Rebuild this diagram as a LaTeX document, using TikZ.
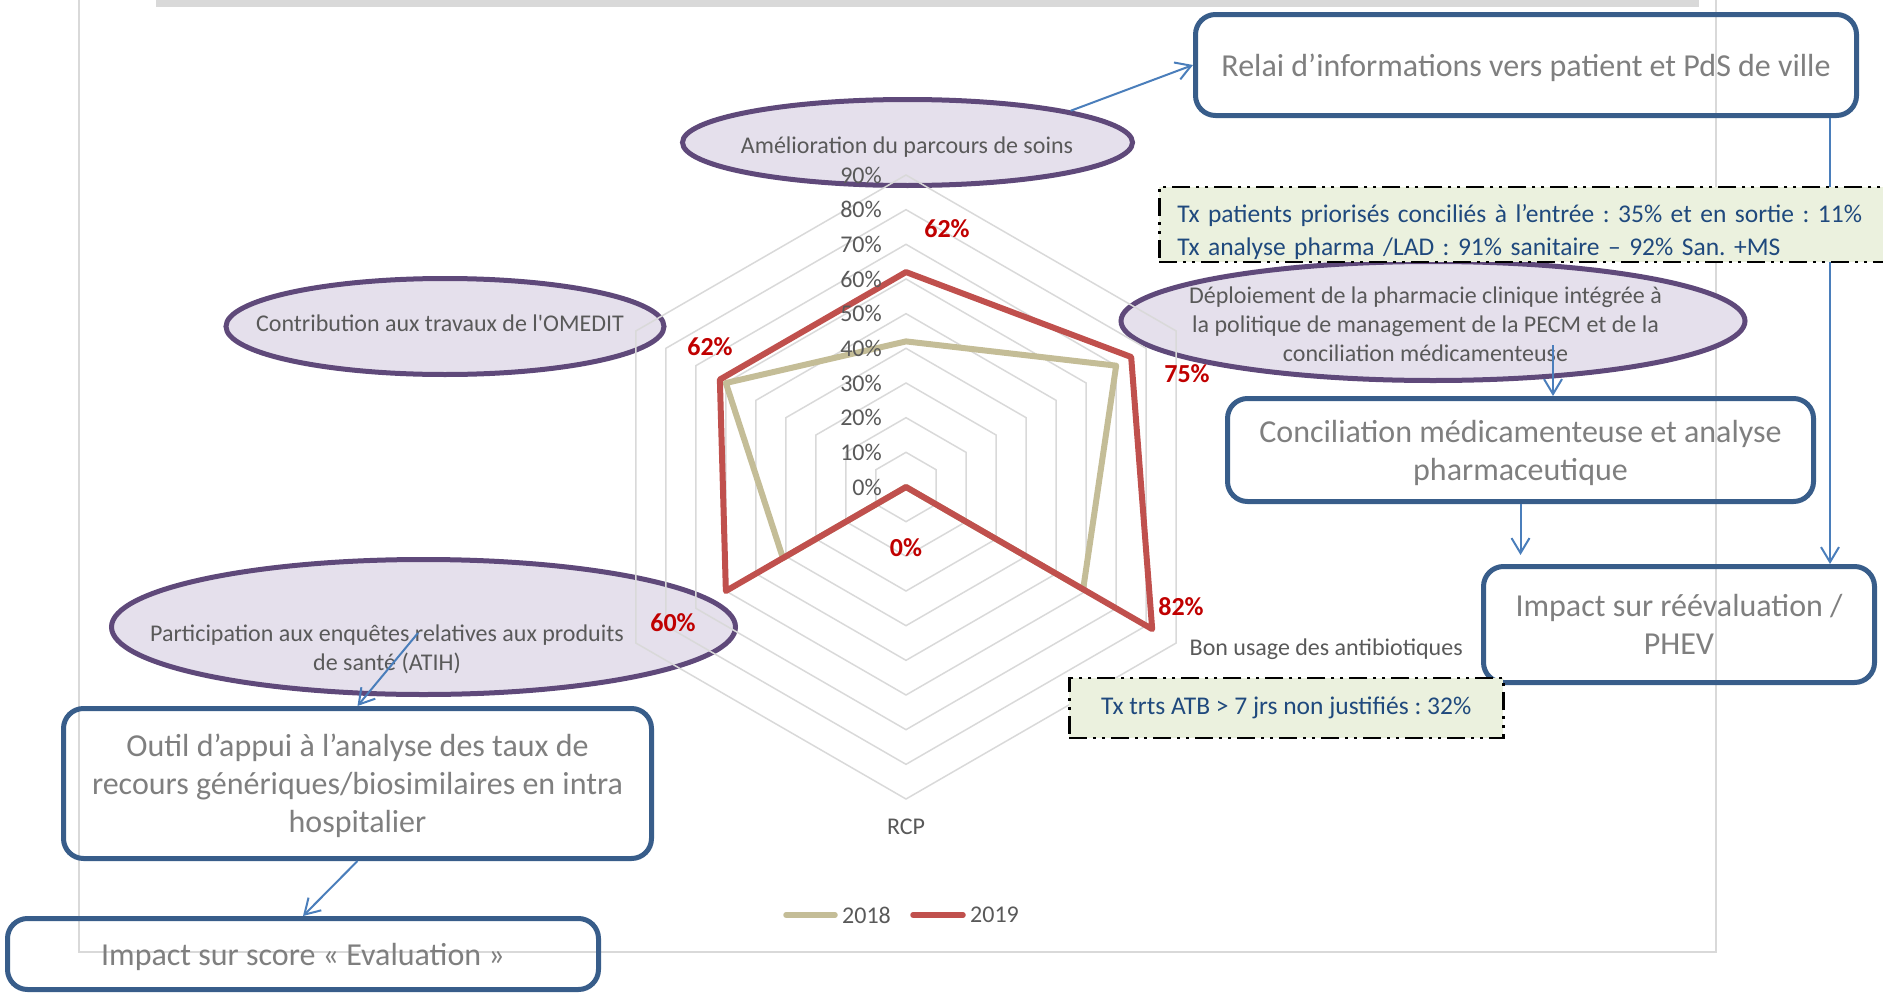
\documentclass[tikz,border=0pt]{standalone}
\usepackage{fontspec}
\setmainfont{Carlito}
\usepackage{tikz}
\usetikzlibrary{calc, shapes.geometric, arrows.meta}
\frenchspacing

\definecolor{gridgray}{HTML}{D9D9D9}
\definecolor{red19}{HTML}{C0504D}
\definecolor{tan18}{HTML}{C4BD97}
\definecolor{valred}{HTML}{C00000}
\definecolor{labgray}{HTML}{595959}
\definecolor{boxgray}{HTML}{7F7F7F}
\definecolor{ovalfill}{HTML}{E5E0EC}
\definecolor{ovalline}{HTML}{5F497A}
\definecolor{boxline}{HTML}{385D8A}
\definecolor{arrblue}{HTML}{4A7EBB}
\definecolor{notefill}{HTML}{EBF1DE}
\definecolor{notetext}{HTML}{1F497D}

\begin{document}
\begin{tikzpicture}[x=1pt, y=-1pt]
  \tikzstyle{gridline}=[draw=gridgray, line width=1.5pt]
  \tikzstyle{oval}=[ellipse, draw=ovalline, fill=ovalfill, line width=5pt, inner sep=0pt]
  \tikzstyle{box}=[draw=boxline, line width=5pt, rounded corners=20pt, align=center, text=boxgray, inner sep=0pt,
    text depth=0pt, font=\fontsize{32}{38}\selectfont]
  \tikzstyle{note}=[draw=black, fill=notefill, line width=2.5pt, dash pattern=on 18pt off 6pt on 3pt off 6pt on 3pt off 6pt,
    text=notetext, align=left, anchor=west, inner xsep=18pt, inner ysep=0pt, font=\fontsize{25.5}{33}\selectfont]
  \tikzstyle{axislab}=[text=labgray, font=\fontsize{24}{29}\selectfont, align=center, inner sep=0pt]
  \tikzstyle{ticklab}=[text=labgray, font=\fontsize{24}{28}\selectfont, inner sep=0pt]
  \tikzstyle{val}=[text=valred, font=\fontsize{26}{30}\selectfont\bfseries, inner sep=0pt]
  \tikzstyle{s2018}=[draw=tan18, line width=6pt, line join=round]
  \tikzstyle{s2019}=[draw=red19, line width=6pt, line join=round]
  \tikzstyle{arr}=[draw=arrblue, line width=2pt, -{Straight Barb[length=15pt, width=18pt]}]

  \useasboundingbox (0,0) rectangle (1883,993);
  \clip (0,0) rectangle (1883,993);

  % chart frame
  \draw[gridgray, line width=2pt] (79,-5) -- (79,952) -- (1716,952) -- (1716,-5);
  \fill[gridgray] (156,0) rectangle (1699,7);

  \node (amel_ov) [oval, minimum width=450pt, minimum height=86pt] at (907.5,142.5) {};
  \node (omed_ov) [oval, minimum width=438pt, minimum height=96pt] at (445,326.5) {};
  \node (depl_ov) [oval, minimum width=624pt, minimum height=119pt] at (1433,321) {};
  \node (atih_ov) [oval, minimum width=624pt, minimum height=135pt] at (423.5,627) {};

  \pgfmathsetmacro{\u}{312/90}

  \begin{scope}[shift={(906,487)}, y=1pt]
    \foreach \k in {1,...,9} {
      \draw[gridline] (90:{\k*10*\u}) \foreach \a in {30,-30,-90,-150,150} { -- (\a:{\k*10*\u}) } -- cycle;
    }
    \draw[s2018] (90:{42*\u}) -- (30:{70*\u}) -- (-30:{59*\u}) -- (-90:0) -- (-150:{41*\u}) -- (150:{60*\u}) -- cycle;
    \draw[s2019] (90:{62*\u}) -- (30:{75*\u}) -- (-30:{82*\u}) -- (-90:0) -- (-150:{60*\u}) -- (150:{62*\u}) -- cycle;
    \foreach \v in {0,10,...,90} {
      \node (tick\v) [ticklab, anchor=east] at (-24,{\v*\u}) {\v\%};
    }
  \end{scope}

  \node (v_amel) [val] at (947,229) {62\%};
  \node (v_depl) [val] at (1187,374) {75\%};
  \node (v_bon) [val] at (1181,607) {82\%};
  \node (v_rcp) [val] at (906,548) {0\%};
  \node (v_atih) [val] at (673,622.5) {60\%};
  \node (v_omed) [val] at (710,347) {62\%};

  \node (l_amel) [axislab] at (907,147) {Amélioration du parcours de soins};
  \node (l_depl) [axislab] at (1425.5,324) {Déploiement de la pharmacie clinique intégrée à\\la politique de management de la PECM et de la\\conciliation médicamenteuse};
  \node (l_bon) [axislab, anchor=west] at (1189.5,649) {Bon usage des antibiotiques};
  \node (l_rcp) [axislab] at (906,827) {RCP};
  \node (l_atih) [axislab] at (387,649.5) {Participation aux enquêtes relatives aux produits\\de santé (ATIH)};
  \node (l_omed) [axislab] at (440,323) {Contribution aux travaux de l\textquotesingle OMEDIT};

  % legend
  \draw[s2018, line width=5.5pt, line cap=round] (786,915) -- (835,915);
  \node (leg18) [ticklab, anchor=west] at (842,915) {2018};
  \draw[s2019, line width=5.5pt, line cap=round] (913,915) -- (963,915);
  \node (leg19) [ticklab, anchor=west] at (970,915) {2019};

  \node (relai) [box, minimum width=661pt, minimum height=101pt] at (1526,65) {Relai d’informations vers patient et PdS de ville};
  \node (impr) [box, minimum width=391pt, minimum height=116pt] at (1679,624.5) {Impact sur réévaluation /\\PHEV};

  \coordinate (rv) at (1830,0);
  \draw[arr] (relai.south -| rv) -- (impr.north -| rv);
  \draw[arr] (amel_ov.11) -- (relai.west);

  \node (tx1) [note, minimum width=776pt, minimum height=75pt, text width=740pt, text height=34pt] at (1158,224.5)
    {Tx patients priorisés conciliés à l’entrée : 35\% et en sortie : 11\%\\Tx analyse pharma /LAD : 91\% sanitaire – 92\% San. +MS};

  \node (concil) [box, minimum width=586pt, minimum height=103pt] at (1520.5,450) {Conciliation médicamenteuse et analyse\\pharmaceutique};
  \coordinate (dp) at (1553,345);
  \draw[arr] (dp) -- (dp |- concil.north);
  \draw[arr, shorten >=9pt] (concil.south) -- (concil.south |- impr.north);

  \node (tx2) [note, minimum width=434pt, minimum height=60pt] at (1068,708) {Tx trts ATB > 7 jrs non justifiés : 32\%};

  \node (outil) [box, minimum width=588pt, minimum height=150pt] at (357.5,783.5) {Outil d’appui à l’analyse des taux de\\recours génériques/biosimilaires en intra\\hospitalier};
  \node (score) [box, minimum width=591pt, minimum height=71pt] at (303,954) {Impact sur score « Evaluation »};

  \coordinate (ap) at (418,633);
  \draw[arr] (ap) -- (outil.north);
  \draw[arr] (outil.south) -- (score.north);

\end{tikzpicture}
\end{document}
